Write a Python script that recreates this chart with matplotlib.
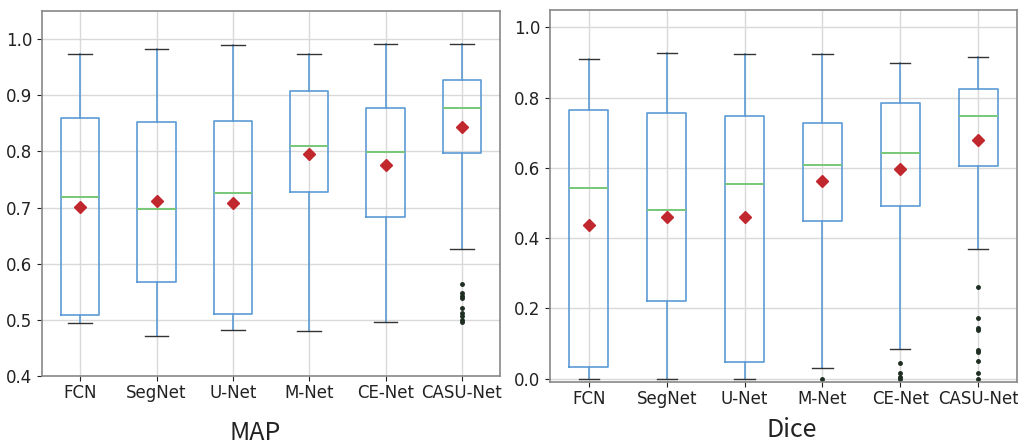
import matplotlib
matplotlib.use("Agg")
import matplotlib.pyplot as plt

categories = ["FCN", "SegNet", "U-Net", "M-Net", "CE-Net", "CASU-Net"]

# MAP statistics
map_whislo = [0.494, 0.471, 0.481, 0.480, 0.496, 0.627]
map_q1 = [0.509, 0.567, 0.510, 0.727, 0.684, 0.798]
map_med = [0.719, 0.697, 0.725, 0.809, 0.799, 0.877]
map_q3 = [0.859, 0.852, 0.854, 0.908, 0.878, 0.928]
map_whishi = [0.974, 0.982, 0.989, 0.973, 0.991, 0.992]
map_mean = [0.701, 0.711, 0.708, 0.796, 0.776, 0.844]
map_fliers = [[], [], [], [], [], [0.563, 0.547, 0.542, 0.539, 0.521, 0.512, 0.507, 0.500, 0.496]]

# Dice statistics
dice_whislo = [0.0, 0.0, 0.0, 0.029, 0.084, 0.370]
dice_q1 = [0.034, 0.221, 0.047, 0.448, 0.491, 0.606]
dice_med = [0.542, 0.480, 0.554, 0.609, 0.643, 0.748]
dice_q3 = [0.766, 0.756, 0.749, 0.728, 0.785, 0.826]
dice_whishi = [0.910, 0.928, 0.924, 0.924, 0.900, 0.916]
dice_mean = [0.438, 0.461, 0.459, 0.563, 0.597, 0.680]
dice_fliers = [[], [], [], [0.0], [0.045, 0.017, 0.003, 0.0],
               [0.260, 0.171, 0.143, 0.138, 0.082, 0.076, 0.049, 0.017, 0.0]]


def build_stats(lo, q1, med, q3, hi, mean, fliers):
    out = []
    for i, name in enumerate(categories):
        out.append(dict(label=name, whislo=lo[i], q1=q1[i], med=med[i], q3=q3[i],
                        whishi=hi[i], mean=mean[i], fliers=fliers[i]))
    return out


fig = plt.figure(figsize=(10.18, 4.44), dpi=100)
ax1 = fig.add_axes([0.0413, 0.1532, 0.4499, 0.822])
ax2 = fig.add_axes([0.5403, 0.1396, 0.4587, 0.838])

blue = "#5b9bd5"
green = "#77c777"
for ax, stats, ylim, ticks, capw in [
    (ax1, build_stats(map_whislo, map_q1, map_med, map_q3, map_whishi, map_mean, map_fliers),
     (0.4, 1.05), [0.4, 0.5, 0.6, 0.7, 0.8, 0.9, 1.0], 0.31),
    (ax2, build_stats(dice_whislo, dice_q1, dice_med, dice_q3, dice_whishi, dice_mean, dice_fliers),
     (-0.01, 1.05), [0.0, 0.2, 0.4, 0.6, 0.8, 1.0], 0.26),
]:
    ax.set_axisbelow(True)
    ax.grid(True, color="#d9d9d9", linewidth=1.0)
    ax.bxp(stats, widths=0.5, capwidths=capw, showmeans=True,
           boxprops=dict(color=blue, linewidth=1.2),
           whiskerprops=dict(color=blue, linewidth=1.2),
           capprops=dict(color="#333333", linewidth=1.0),
           medianprops=dict(color=green, linewidth=1.4),
           meanprops=dict(marker="D", markerfacecolor="#c0282d", markeredgecolor="#c0282d",
                          markersize=6.5),
           flierprops=dict(marker="o", markerfacecolor="#1e2e22", markeredgecolor="#1e2e22",
                           markersize=2.5))
    ax.set_xlim(0.5, 6.5)
    ax.set_ylim(*ylim)
    ax.set_yticks(ticks)
    ax.set_yticklabels([f"{t:.1f}" for t in ticks])
    ax.tick_params(labelsize=12, colors="#222222", length=3.5)
    ax.tick_params(axis="x", pad=2)
    for s in ax.spines.values():
        s.set_color("#888888")
        s.set_linewidth(1.2)

fig.text(0.2505, 0.025, "MAP", ha="center", va="center", fontsize=18,
         family=["Noto Sans CJK SC", "DejaVu Sans"], color="#222222")
fig.text(0.778, 0.032, "Dice", ha="center", va="center", fontsize=18,
         family=["Noto Sans CJK SC", "DejaVu Sans"], color="#222222")

fig.savefig("out.png", dpi=100)
